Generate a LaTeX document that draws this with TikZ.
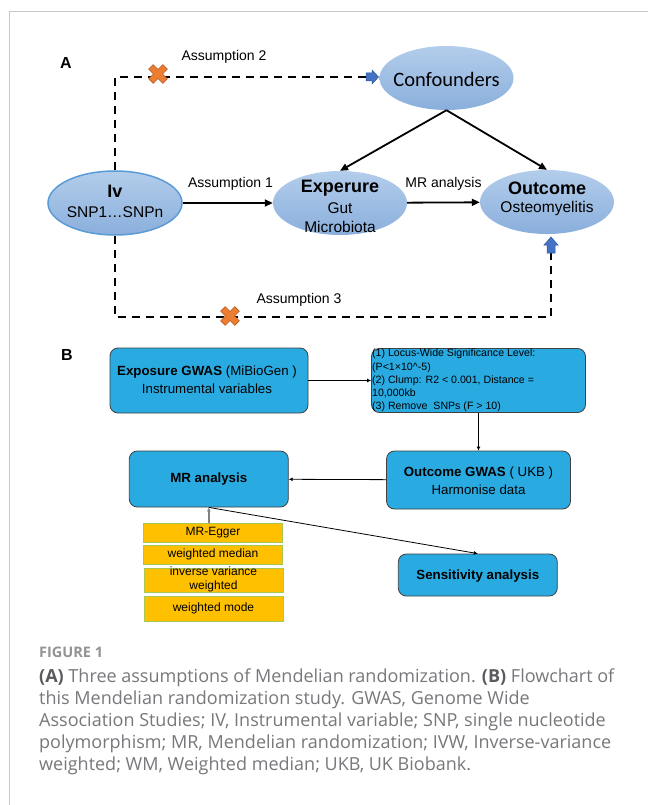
\documentclass[tikz,border=0pt]{standalone}
\usepackage{fontspec}
\setmainfont{Liberation Sans}
\newfontfamily\calib{Carlito}
\newfontfamily\capfont{Open Sans}
\usetikzlibrary{arrows.meta,shapes.geometric,calc}
\definecolor{ellTop}{HTML}{B3CDEB}
\definecolor{ellBot}{HTML}{8AAFDC}
\definecolor{ivBorder}{HTML}{5B9BD5}
\definecolor{boxBlue}{HTML}{29ABE2}
\definecolor{boxBorder}{HTML}{404040}
\definecolor{mOrange}{HTML}{FFC000}
\definecolor{mBorder}{HTML}{A9C650}
\definecolor{xOrange}{HTML}{ED7D31}
\definecolor{xBorder}{HTML}{B8602A}
\definecolor{arrBlue}{HTML}{4472C4}
\definecolor{arrBorder}{HTML}{2F5597}
\definecolor{frameGray}{HTML}{C8C8C8}
\definecolor{capGray}{HTML}{77787B}
\definecolor{capDark}{HTML}{5A5B5E}
\begin{document}
\begin{tikzpicture}[x=1pt,y=-1pt,
  ell/.style={ellipse, minimum width=134pt, minimum height=64pt, inner sep=0pt, shade, top color=ellTop, bottom color=ellBot},
  txt/.style={inner sep=0pt, font=\fontsize{14}{16}\selectfont},
  bigb/.style={inner sep=0pt, font=\fontsize{18}{20}\selectfont\bfseries},
  midt/.style={inner sep=0pt, font=\fontsize{15.5}{18}\selectfont},
  dashline/.style={line width=1.8pt, dash pattern=on 8pt off 6pt},
  aarrow/.style={line width=1.8pt, -{Triangle[length=8pt,width=7pt]}},
  bbox/.style={draw=boxBorder, line width=0.8pt, fill=boxBlue, rounded corners=8pt, inner sep=0pt},
  btxt/.style={inner sep=0pt, font=\fontsize{13.3}{16}\selectfont},
  mbox/.style={draw=mBorder, line width=0.8pt, fill=mOrange, inner sep=0pt, minimum width=139pt, font=\fontsize{12}{14}\selectfont, align=center},
  barrow/.style={line width=0.8pt, -{Latex[length=4pt,width=4pt]}},
  xcross/.pic={\path[fill=xOrange, draw=xBorder, line width=0.6pt, rotate=45] (3.2,3.2) -- (3.2,10) -- (-3.2,10) -- (-3.2,3.2) -- (-10,3.2) -- (-10,-3.2) -- (-3.2,-3.2) -- (-3.2,-10) -- (3.2,-10) -- (3.2,-3.2) -- (10,-3.2) -- (10,3.2) -- cycle;},
  capt/.style={inner sep=0pt, anchor=west, text=capGray, font=\capfont\fontsize{18}{22}\selectfont}
]
\useasboundingbox (0,0) rectangle (648,805);
\fill[white] (0,0) rectangle (648,805);
\draw[frameGray, line width=1.2pt] (9.5,805) -- (9.5,11.5) -- (648,11.5);

% ---------- Part A ----------
\node[inner sep=0pt, font=\fontsize{16}{18}\selectfont\bfseries] (labA) at (66,63) {A};

\node[ell] (conf) at (446.5,78) {};
\node[ell, draw=ivBorder, line width=1.5pt] (iv) at (115,203) {};
\node[ell] (exp) at (340,203) {};
\node[ell] (out) at (547,202) {};

\node[inner sep=0pt, font=\calib\fontsize{20.5}{22}\selectfont] (conft) at (446.5,79) {Confounders};
\node[bigb] (ivt1) at (115,191.7) {Iv};
\node[midt] (ivt2) at (115,212) {SNP1…SNPn};
\node[bigb] (expt1) at (340,188.5) {Experure};
\node[midt] (expt2) at (340,208) {Gut};
\node[midt] (expt3) at (340,227) {Microbiota};
\node[bigb] (outt1) at (547,188.5) {Outcome};
\node[midt] (outt2) at (547,208) {Osteomyelitis};

\node[txt] (as2) at (224,57) {Assumption 2};
\node[txt] (as1) at (230.5,183.5) {Assumption 1};
\node[txt] (mra) at (443.5,183.5) {MR analysis};
\node[txt] (as3) at (299,299.5) {Assumption 3};

\draw[aarrow] (iv) -- (exp);
\draw[aarrow] (exp) -- (out);
\draw[aarrow] (conf.south) -- (exp.north);
\draw[aarrow] (conf.south) -- (out.north);

\coordinate (ba1) at (366,77);
\coordinate (bl) at (115,317);
\coordinate (ba2) at (551,253);
\draw[dashline] (iv.north) |- (ba1);
\draw[dashline] (iv.south) -- (bl) -| (ba2);
\path[fill=arrBlue, draw=arrBorder, line width=0.5pt] (366,73) -- (372,73) -- (372,70) -- (378.5,77) -- (372,84) -- (372,81) -- (366,81) -- cycle;
\path[fill=arrBlue, draw=arrBorder, line width=0.5pt] (547,253) -- (547,245) -- (544,245) -- (551,237) -- (558,245) -- (555,245) -- (555,253) -- cycle;
\pic at (158,74) {xcross};
\pic at (230,316) {xcross};

% ---------- Part B ----------
\node[inner sep=0pt, font=\fontsize{16}{18}\selectfont\bfseries] (labB) at (67,355) {B};

\node[bbox, minimum width=198pt, minimum height=65pt] (expo) at (209,380.5) {};
\node[btxt] (expot1) at (207,372.5) {\textbf{Exposure GWAS} (MiBioGen )};
\node[btxt] (expot2) at (207,389) {Instrumental variables};

\node[bbox, minimum width=214pt, minimum height=64pt] (crit) at (478.5,380.5) {};
\node[inner sep=0pt, anchor=west, align=left, font=\fontsize{10.6}{13.2}\selectfont] (critt) at (372,380.5)
 {(1) Locus-Wide Significance Level:\\(P<1×10\textasciicircum-5)\\(2) Clump: R2 < 0.001, Distance =\\10,000kb\\(3) Remove \ SNPs (F > 10)};

\node[bbox, minimum width=184pt, minimum height=58pt] (outg) at (478.5,480) {};
\node[btxt] (outgt1) at (478.5,473.3) {\textbf{Outcome GWAS} ( UKB )};
\node[btxt] (outgt2) at (478.5,489.5) {Harmonise data};

\node[bbox, minimum width=159pt, minimum height=56pt] (mr) at (208.8,479) {};
\node[btxt, font=\fontsize{13.3}{16}\selectfont\bfseries] (mrt) at (208.8,479.3) {MR analysis};

\node[bbox, minimum width=159pt, minimum height=42pt] (sens) at (477.8,575) {};
\node[btxt, font=\fontsize{13.3}{16}\selectfont\bfseries] (senst) at (477.8,576) {Sensitivity analysis};

\node[mbox, minimum height=19.4pt] (egger) at (213,533) {MR-Egger};
\node[mbox, minimum height=18.7pt] (wmed) at (213,554.7) {weighted median};
\node[mbox, minimum height=24pt] (ivw) at (213.5,580.3) {};
\node[inner sep=0pt, align=center, font=\fontsize{12}{14}\selectfont] (ivwt) at (213.5,579.7) {inverse variance\\weighted};
\node[mbox, minimum height=25pt] (wmode) at (213.5,608.5) {weighted mode};

\draw[barrow] (expo) -- (crit);
\draw[barrow] (crit) -- (outg);
\draw[barrow] (outg) -- (mr);
\draw[barrow] (mr.south) -- (sens.north);
\draw[line width=1.5pt, draw=gray, -{Latex[length=4pt,width=4pt]}] (egger.north -| mr.south) -- (mr.south);

% ---------- Caption ----------
\node[capt, font=\capfont\fontsize{14.5}{16}\selectfont\bfseries, text=capGray!80] (fig) at (39,652) {FIGURE 1};
\node[capt] (c1) at (39,678) {\textcolor{capDark}{\bfseries (A)} Three assumptions of Mendelian randomization. \textcolor{capDark}{\bfseries (B)} Flowchart of};
\node[capt] (c2) at (39,700) {this Mendelian randomization study. GWAS, Genome Wide};
\node[capt] (c3) at (39,722) {Association Studies; IV, Instrumental variable; SNP, single nucleotide};
\node[capt] (c4) at (39,744) {polymorphism; MR, Mendelian randomization; IVW, Inverse-variance};
\node[capt] (c5) at (39,766) {weighted; WM, Weighted median; UKB, UK Biobank.};
\end{tikzpicture}
\end{document}
